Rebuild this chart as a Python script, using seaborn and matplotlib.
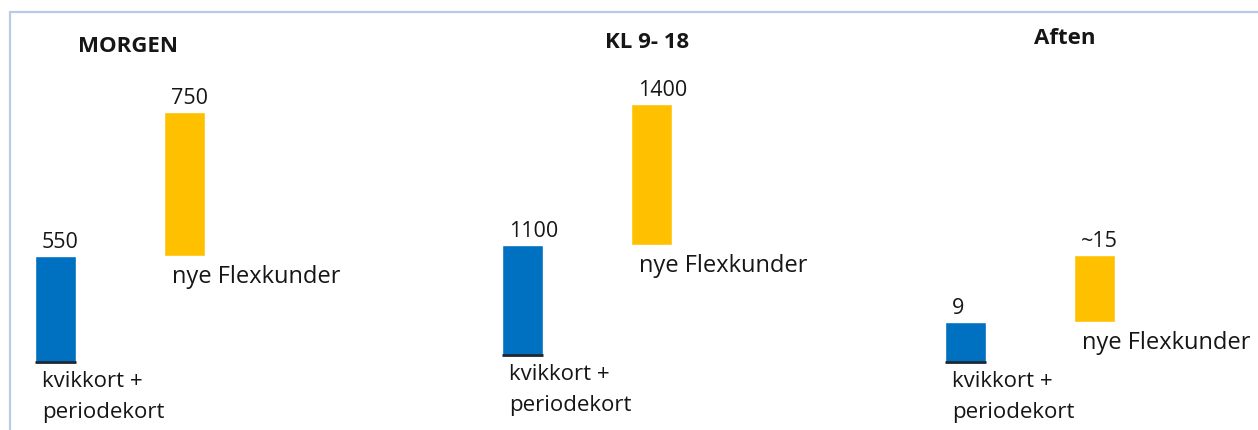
import matplotlib
matplotlib.use("Agg")
import matplotlib.pyplot as plt
from matplotlib.patches import Rectangle
import seaborn as sns
import pandas as pd

# Passengers per time of day: existing card holders and new Flex customers
periods = ["MORGEN", "KL 9- 18", "Aften"]
existing = [550, 1100, 9]            # kvikkort + periodekort
new_flex = [750, 1400, 15]           # nye Flexkunder
existing_labels = ["550", "1100", "9"]
new_labels = ["750", "1400", "~15"]
categories = ["kvikkort +\nperiodekort", "nye Flexkunder"]

BLUE = "#0070C0"
YELLOW = "#FFC000"
FRAME = "#b7cce9"

sns.set_theme(style="white")
plt.rcParams["font.family"] = ["Open Sans", "DejaVu Sans"]
plt.rcParams["text.color"] = "#161616"

W, H = 1258, 430
PX = 0.72  # points per pixel at 100 dpi
fig = plt.figure(figsize=(W / 100, H / 100), dpi=100)
fig.patch.set_facecolor("white")

# thin light-blue frame around the chart area
fig.add_artist(Rectangle((10 / W, -0.1), 1.2, 1.1 - 12 / H,
                         transform=fig.transFigure, fill=False,
                         edgecolor=FRAME, lw=1.6))

# panel placement in pixels: first bar centre x, baseline y, y of stacked top
layout = [(55.5, 362, 112), (522.5, 355, 104), (965.5, 362, 255)]
title_pos = [(128, 46), (647, 43), (1065, 39)]
step = 129      # pixels between the two bar centres
bw = 0.32       # bar width in category units
top_px = 20

for i, period in enumerate(periods):
    cx, base, top = layout[i]
    left = cx - 0.4 * step
    ax = fig.add_axes([left / W, 1 - base / H, 2.4 * step / W, (base - top_px) / H])
    total = existing[i] + new_flex[i]
    ymax = total * (base - top_px) / (base - top)

    df = pd.DataFrame({"kategori": categories,
                       "antal": [existing[i], new_flex[i]]})
    sns.barplot(data=df.iloc[:1], x="kategori", y="antal", order=categories,
                color=BLUE, width=bw, saturation=1, errorbar=None, ax=ax)
    sns.barplot(data=df.iloc[1:], x="kategori", y="antal", order=categories,
                color=YELLOW, width=bw, saturation=1, errorbar=None, ax=ax,
                bottom=existing[i])

    ax.set_xlim(-0.4, 2.0)
    ax.set_ylim(0, ymax)
    ax.axis("off")

    # dark baseline under the blue bar
    ax.hlines(0, -bw / 2, bw / 2, color="#1c2733", lw=2, clip_on=False)

    # value labels above the bars
    ax.annotate(existing_labels[i], xy=(-bw / 2, existing[i]),
                xytext=(7 * PX, 3 * PX), textcoords="offset points",
                ha="left", va="bottom", fontsize=15.5, annotation_clip=False)
    ax.annotate(new_labels[i], xy=(1 - bw / 2, total),
                xytext=(7 * PX, 3 * PX), textcoords="offset points",
                ha="left", va="bottom", fontsize=15.5, annotation_clip=False)

    # category labels below the bars
    ax.annotate(categories[0], xy=(-bw / 2, 0),
                xytext=(7 * PX, -9 * PX), textcoords="offset points",
                ha="left", va="top", fontsize=16, linespacing=1.65,
                annotation_clip=False)
    ax.annotate(categories[1], xy=(1 - bw / 2, existing[i]),
                xytext=(8 * PX, -9 * PX), textcoords="offset points",
                ha="left", va="top", fontsize=17, annotation_clip=False)

    tx, ty = title_pos[i]
    fig.text(tx / W, 1 - ty / H, period, ha="center", va="center",
             fontsize=16, fontweight="bold")

fig.savefig("out.png", dpi=100, facecolor="white")
